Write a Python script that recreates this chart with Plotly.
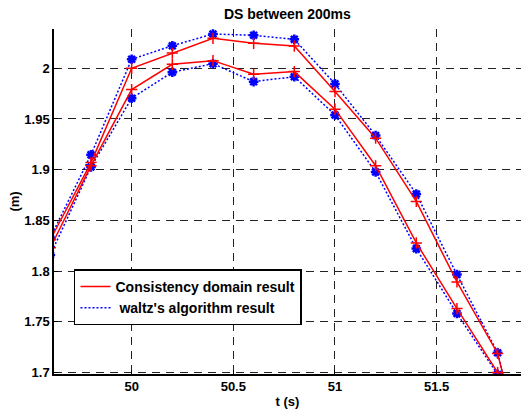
import plotly.graph_objects as go

t = [49.6, 49.8, 50.0, 50.2, 50.4, 50.6, 50.8, 51.0, 51.2, 51.4, 51.6, 51.8, 52.0]
red_upper = [1.831, 1.907, 2.000, 2.015, 2.0295, 2.0246, 2.0219, 1.977, 1.9311, 1.8687, 1.7894, 1.7189, 1.56]
red_lower = [1.823, 1.904, 1.979, 2.0039, 2.0075, 1.9941, 1.9967, 1.9597, 1.9039, 1.8278, 1.7631, 1.700, 1.55]
blue_upper = [1.833, 1.9147, 2.0089, 2.0222, 2.0338, 2.0325, 2.0285, 1.9846, 1.9337, 1.876, 1.7966, 1.7196, 1.56]
blue_lower = [1.816, 1.9026, 1.9705, 1.9961, 2.0045, 1.9868, 1.9917, 1.954, 1.8977, 1.8222, 1.7582, 1.6982, 1.55]

y_ticks = [1.7, 1.75, 1.8, 1.85, 1.9, 1.95, 2.0]
y_tick_text = ["1.7", "1.75", "1.8", "1.85", "1.9", "1.95", "2"]
x_ticks = [50, 50.5, 51, 51.5]
x_tick_text = ["50", "50.5", "51", "51.5"]

RED = "#ff0000"
BLUE = "#0000ff"
FONT = "Liberation Sans, Arial, sans-serif"

fig = go.Figure()

for ys in (blue_upper, blue_lower):
    fig.add_trace(go.Scatter(
        x=t, y=ys, mode="lines+markers", showlegend=False, hoverinfo="skip",
        line=dict(color=BLUE, width=1.5, dash="2px,2px"),
        marker=dict(symbol="asterisk-open", size=8, color=BLUE,
                    line=dict(color=BLUE, width=2.5)),
    ))
for ys in (red_upper, red_lower):
    fig.add_trace(go.Scatter(
        x=t, y=ys, mode="lines+markers", showlegend=False, hoverinfo="skip",
        line=dict(color=RED, width=1.5),
        marker=dict(symbol="cross-thin-open", size=8, color=RED,
                    line=dict(color=RED, width=1.5)),
    ))

fig.add_trace(go.Scatter(x=[None], y=[None], mode="lines",
                         name="Consistency domain result",
                         line=dict(color=RED, width=1.5)))
fig.add_trace(go.Scatter(x=[None], y=[None], mode="lines",
                         name="\u00a0waltz's algorithm result",
                         line=dict(color=BLUE, width=1.5, dash="2px,2px")))

axis_common = dict(
    showgrid=True, gridcolor="#222222", gridwidth=1, griddash="8px,6px",
    showline=True, linecolor="black", linewidth=1.5,
    ticks="inside", ticklen=4, tickcolor="black",
    tickfont=dict(family=FONT, size=13, color="black", weight="bold"),
    zeroline=False, mirror=False,
)

fig.update_layout(
    width=521, height=410,
    margin=dict(l=54, r=0, t=29, b=36),
    paper_bgcolor="white", plot_bgcolor="white",
    title=dict(text="DS between 200ms", x=0.5515, xanchor="center",
               y=0.965, yanchor="middle",
               font=dict(family=FONT, size=14, color="black", weight="bold")),
    xaxis=dict(range=[49.618, 51.915], tickvals=x_ticks, ticktext=x_tick_text,
               title=dict(text="t (s)", standoff=4,
                          font=dict(family=FONT, size=13, color="black", weight="bold")),
               **axis_common),
    yaxis=dict(range=[1.6986, 2.0387], tickvals=y_ticks, ticktext=y_tick_text,
               title=dict(text="(m)", standoff=2,
                          font=dict(family=FONT, size=13, color="black", weight="bold")),
               **axis_common),
    legend=dict(x=0.0428, y=0.303, xanchor="left", yanchor="top",
                bgcolor="white", bordercolor="black", borderwidth=1.5,
                font=dict(family=FONT, size=14, color="black", weight="bold"),
                itemwidth=30, tracegroupgap=0),
    showlegend=True,
    hovermode=False,
)

fig.write_html("out.html",
               config={"displayModeBar": False},
               post_script="document.body.style.margin='0';document.body.style.padding='0';")
